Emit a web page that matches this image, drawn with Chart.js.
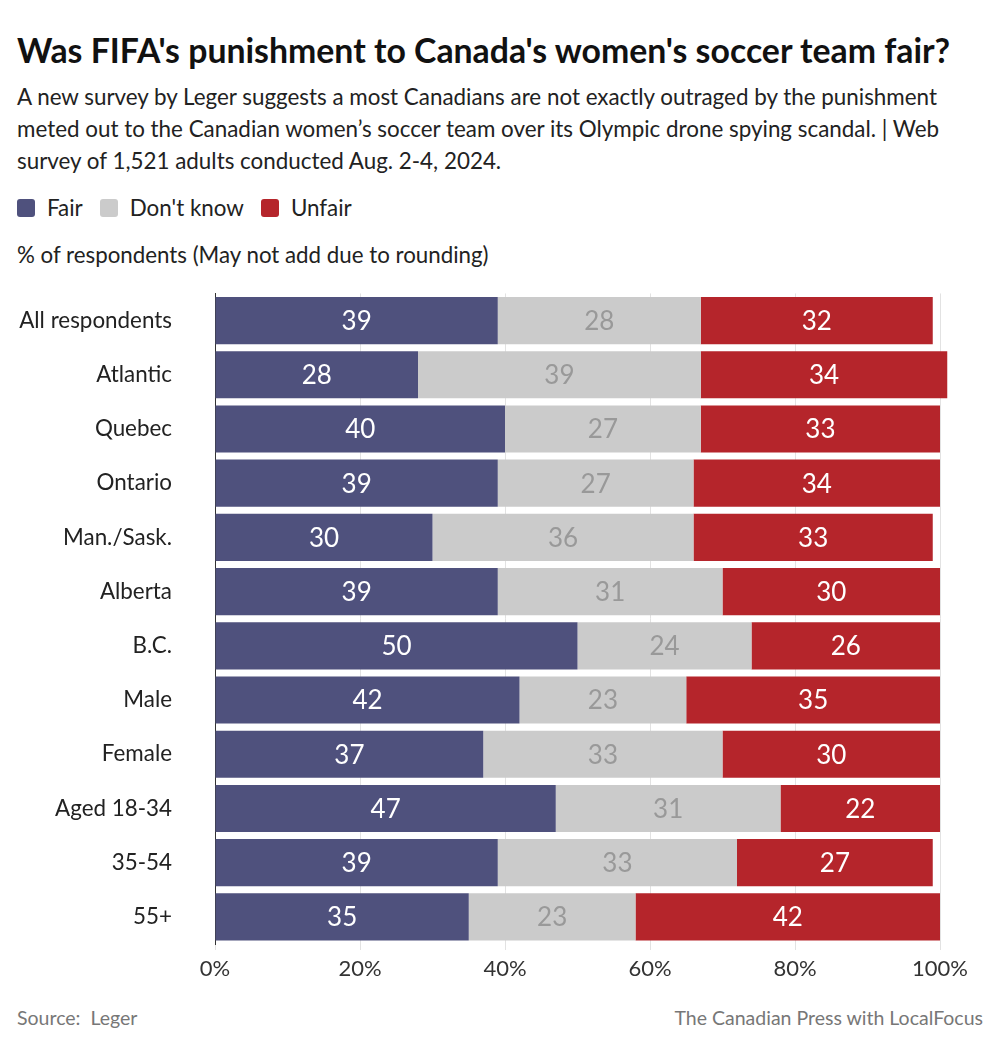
<!DOCTYPE html>
<html>
<head>
<meta charset="utf-8">
<script src="https://cdn.jsdelivr.net/npm/chart.js@4"></script>
<style>
  body { margin: 0; background: #fff; font-family: Lato, sans-serif; color: #222; }
  #wrap { position: relative; width: 1000px; height: 1058px; overflow: hidden; }
  .title { position: absolute; left: 17px; top: 28px; font-size: 33.8px; line-height: 44px; font-weight: 700; color: #111; white-space: nowrap; }
  .sub { position: absolute; left: 17px; top: 81px; font-size: 22.4px; line-height: 32px; color: #222; width: 960px; }
  .legend { position: absolute; left: 17px; top: 193px; font-size: 22.4px; line-height: 30px; display: flex; align-items: center; }
  .legend span.sw { display: inline-block; width: 18px; height: 18px; border-radius: 3px; margin-right: 12px; }
  .legend span.lb { margin-right: 17px; }
  .axnote { position: absolute; left: 17px; top: 240px; font-size: 22.3px; line-height: 30px; color: #222; }
  .foot { position: absolute; top: 1004px; font-size: 19.5px; line-height: 28px; color: #777; }
  #box { position: absolute; left: 0; top: 280px; width: 1000px; height: 710px; }
</style>
</head>
<body>
<div id="wrap">
  <div class="title">Was FIFA's punishment to Canada's women's soccer team fair?</div>
  <div class="sub">A new survey by Leger suggests a most Canadians are not exactly outraged by the punishment meted out to the Canadian women’s soccer team over its Olympic drone spying scandal. | Web survey of 1,521 adults conducted Aug. 2-4, 2024.</div>
  <div class="legend">
    <span class="sw" style="background:#4f517d"></span><span class="lb">Fair</span>
    <span class="sw" style="background:#cbcbcb"></span><span class="lb">Don't know</span>
    <span class="sw" style="background:#b5252b"></span><span class="lb">Unfair</span>
  </div>
  <div class="axnote">% of respondents (May not add due to rounding)</div>
  <div id="box"><canvas id="chart"></canvas></div>
  <div class="foot" style="left:17px">Source:&nbsp; Leger</div>
  <div class="foot" style="right:17px">The Canadian Press with LocalFocus</div>
</div>
<script>
const categories = ["All respondents", "Atlantic", "Quebec", "Ontario", "Man./Sask.", "Alberta",
                    "B.C.", "Male", "Female", "Aged 18-34", "35-54", "55+"];
const fair    = [39, 28, 40, 39, 30, 39, 50, 42, 37, 47, 39, 35];
const dontKnow = [28, 39, 27, 27, 36, 31, 24, 23, 33, 31, 33, 23];
const unfair  = [32, 34, 33, 34, 33, 30, 26, 35, 30, 22, 27, 42];
const xTicks = [0, 20, 40, 60, 80, 100];

const labelColors = ["#ffffff", "#999999", "#ffffff"];

// draws the value in the middle of each bar segment
const valueLabels = {
    id: "valueLabels",
    afterDatasetsDraw(chart) {
        const ctx = chart.ctx;
        ctx.save();
        ctx.font = "26px Lato";
        ctx.textAlign = "center";
        ctx.textBaseline = "middle";
        chart.data.datasets.forEach((ds, i) => {
            const meta = chart.getDatasetMeta(i);
            ctx.fillStyle = labelColors[i];
            meta.data.forEach((bar, j) => {
                ctx.fillText(ds.data[j], (bar.x + bar.base) / 2, bar.y + 1);
            });
        });
        ctx.restore();
    }
};

new Chart(document.getElementById("chart"), {
    type: "bar",
    data: {
        labels: categories,
        datasets: [
            { label: "Fair", data: fair, backgroundColor: "#4f517d" },
            { label: "Don't know", data: dontKnow, backgroundColor: "#cbcbcb" },
            { label: "Unfair", data: unfair, backgroundColor: "#b5252b" }
        ]
    },
    options: {
        indexAxis: "y",
        responsive: true,
        maintainAspectRatio: false,
        animation: false,
        layout: { padding: { top: 13, right: 60, left: 0, bottom: 0 } },
        datasets: { bar: { barPercentage: 0.87, categoryPercentage: 1, clip: false, borderWidth: 0 } },
        plugins: { legend: { display: false }, tooltip: { enabled: false } },
        scales: {
            x: {
                stacked: true,
                min: 0,
                max: 100,
                afterBuildTicks: (scale) => { scale.ticks = xTicks.map(v => ({ value: v })); },
                afterFit: (scale) => { scale.height = 46; },
                ticks: {
                    callback: (v) => v + "%",
                    font: { family: "Lato", size: 22 },
                    color: "#333",
                    padding: 6
                },
                grid: { color: "#e2e2e2", tickLength: 6, drawTicks: true },
                border: { display: false }
            },
            y: {
                stacked: true,
                afterFit: (scale) => { scale.width = 215; },
                ticks: {
                    font: { family: "Lato", size: 22.4 },
                    color: "#222",
                    padding: 0
                },
                // invisible tick marks give the labels their gap from the axis
                grid: { display: true, drawOnChartArea: false, drawTicks: true, tickLength: 43, color: "rgba(0,0,0,0)" },
                border: { display: true, color: "#333", width: 1 }
            }
        }
    },
    plugins: [valueLabels]
});
</script>
</body>
</html>
